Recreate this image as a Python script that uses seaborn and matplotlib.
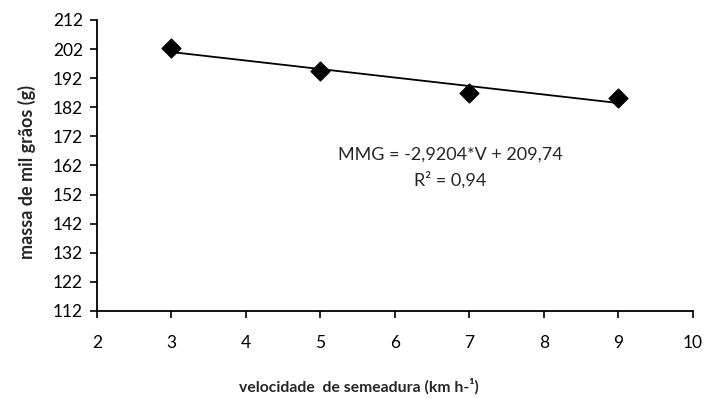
import matplotlib
matplotlib.use("Agg")
import matplotlib.pyplot as plt
import seaborn as sns
import numpy as np
import pandas as pd

# Data
velocidade = [3, 5, 7, 9]
massa = [202.4, 194.6, 186.9, 185.3]
slope = -2.9204
intercept = 209.74
x_ticks = [2, 3, 4, 5, 6, 7, 8, 9, 10]
y_ticks = [112, 122, 132, 142, 152, 162, 172, 182, 192, 202, 212]
equation_text = "MMG = -2,9204*V + 209,74"
r2_text = "R² = 0,94"
xlabel = "velocidade  de semeadura (km h-¹)"
ylabel = "massa de mil grãos (g)"

sns.set_theme(style="ticks")
plt.rcParams['font.family'] = ['Lato', 'DejaVu Sans']

fig = plt.figure(figsize=(7.09, 3.99), dpi=100)
ax = fig.add_axes([0.1368, 0.2206, 0.8406, 0.7293])

df = pd.DataFrame({"v": velocidade, "m": massa})
fit_x = np.array([min(velocidade), max(velocidade)], dtype=float)
fit_df = pd.DataFrame({"v": fit_x, "m": intercept + slope * fit_x})

sns.lineplot(data=fit_df, x="v", y="m", ax=ax, color="black", linewidth=1.3)
sns.scatterplot(data=df, x="v", y="m", ax=ax, marker="D", s=95, color="black",
                edgecolor="black", zorder=3)

ax.set_xlim(2, 10)
ax.set_ylim(112, 212)
ax.set_xticks(x_ticks)
ax.set_yticks(y_ticks)
ax.tick_params(axis="both", direction="out", length=5, width=1.2, color="black",
               labelsize=12.5, labelcolor="black", pad=5)
ax.tick_params(axis="x", pad=12)
for s in ["top", "right"]:
    ax.spines[s].set_visible(False)
for s in ["left", "bottom"]:
    ax.spines[s].set_color("black")
    ax.spines[s].set_linewidth(1.3)

ax.set_xlabel(xlabel, fontsize=11.3, fontweight="bold")
ax.set_ylabel(ylabel, fontsize=13, fontweight="bold")
ax.xaxis.set_label_coords(0.44, -0.232)
ax.yaxis.set_label_coords(-0.102, 0.479)

ax.text(6.74, 165.6, equation_text, ha="center", va="center", fontsize=13)
ax.text(6.74, 157.0, r2_text, ha="center", va="center", fontsize=13)

fig.savefig("out.png", dpi=100)
